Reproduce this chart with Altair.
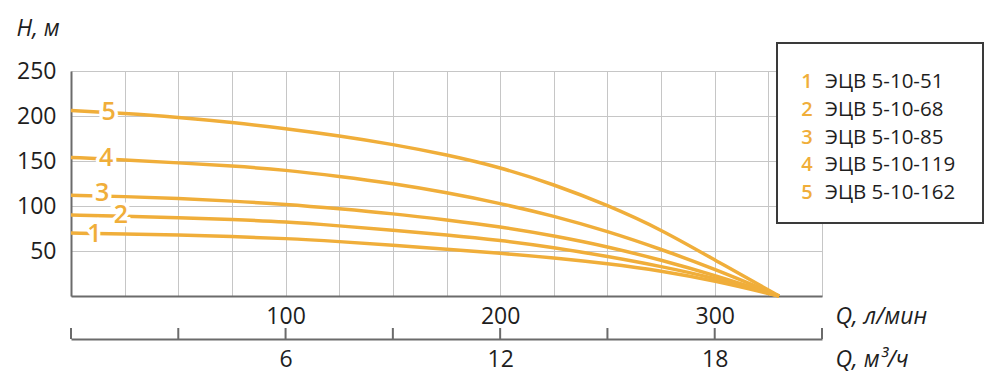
import altair as alt
import pandas as pd

# ---- data ----
q_lpm = [0, 25, 50, 75, 100, 125, 150, 175, 200, 225, 250, 275, 300, 330]
h_1 = [70, 69, 68, 66, 64, 60.5, 56.5, 52, 47.5, 42.5, 36, 28, 17, 0]
h_2 = [90, 88.5, 87, 85, 82.5, 78, 73, 68, 62, 54, 44, 33, 20, 0]
h_3 = [112, 110.5, 108.5, 105.5, 102, 97, 91.5, 84.5, 77, 67, 55, 40, 23, 0]
h_4 = [154, 151, 148, 144.5, 140, 133, 125, 115, 103, 89, 72, 52, 30, 0]
h_5 = [206, 203, 198.5, 193, 186, 178, 168.5, 157, 143, 124, 101, 74, 40, 0]

curve_ids = ["1", "2", "3", "4", "5"]
models = ["ЭЦВ 5-10-51", "ЭЦВ 5-10-68", "ЭЦВ 5-10-85", "ЭЦВ 5-10-119", "ЭЦВ 5-10-162"]
label_q = [10.9, 23.3, 14.5, 16.4, 17.6]
label_h = [69, 89.5, 115, 153, 204]

x_grid = [0, 25, 50, 75, 100, 125, 150, 175, 200, 225, 250, 275, 300, 325, 350]
y_ticks = [0, 50, 100, 150, 200, 250]
m3_ticks = [0, 3, 6, 9, 12, 15, 18, 21]
m3_labels = [6, 12, 18]

ORANGE = "#F0AE3A"
AXIS = "#6b6b6b"
GRID = "#c6c6c6"
TXT = "#1e1e1e"
FONT = "Open Sans"
W, H = 751, 225

rows = []
for cid, hs in zip(curve_ids, [h_1, h_2, h_3, h_4, h_5]):
    for q, h in zip(q_lpm, hs):
        rows.append({"curve": cid, "Q": q, "H": h})
curves = pd.DataFrame(rows)
labels = pd.DataFrame({"curve": curve_ids, "Q": label_q, "H": label_h})
legend_df = pd.DataFrame({"nums": ["\n".join(curve_ids)], "names": ["\n".join(models)]})
m3_df = pd.DataFrame({"m3": m3_ticks})

x_main = alt.X(
    "Q:Q",
    scale=alt.Scale(domain=[0, 350], nice=False, zero=False),
    axis=alt.Axis(
        values=x_grid,
        labelExpr="(datum.value > 0 && datum.value % 100 == 0) ? datum.label : ''",
        labelOverlap=False,
        labelFlush=False,
        tickSize=0,
        labelPadding=9,
        labelFontSize=23,
        labelColor=TXT,
        labelFont=FONT,
        grid=True,
        gridColor=GRID,
        gridWidth=1,
        domainColor=AXIS,
        domainWidth=2,
        title="Q, л/мин",
        titleFont=FONT,
        titleFontSize=23,
        titleFontStyle="italic",
        titleFontWeight="normal",
        titleColor=TXT,
        titleAngle=0,
        titleAlign="left",
        titleBaseline="middle",
        titleX=W + 13,
        titleY=20,
    ),
)
y_main = alt.Y(
    "H:Q",
    scale=alt.Scale(domain=[0, 250], nice=False),
    axis=alt.Axis(
        values=y_ticks,
        labelExpr="datum.value == 0 ? '' : datum.label",
        tickSize=0,
        labelPadding=15,
        labelFontSize=23,
        labelColor=TXT,
        labelFont=FONT,
        grid=True,
        gridColor=GRID,
        gridWidth=1,
        domainColor=AXIS,
        domainWidth=2,
        title="H, м",
        titleFont=FONT,
        titleFontSize=23,
        titleFontStyle="italic",
        titleFontWeight="normal",
        titleColor=TXT,
        titleAngle=0,
        titleAlign="left",
        titleBaseline="middle",
        titleX=-55,
        titleY=-43,
    ),
)

lines = alt.Chart(curves).mark_line(
    color=ORANGE, strokeWidth=3.5, interpolate="basis"
).encode(x=x_main, y=y_main, detail="curve:N")

halo = alt.Chart(labels).mark_text(
    font=FONT, fontSize=25, fontWeight=600, color="white", stroke="white", strokeWidth=7,
    align="center", baseline="middle"
).encode(x=x_main, y=y_main, text="curve:N")

label_txt = alt.Chart(labels).mark_text(
    font=FONT, fontSize=25, fontWeight=600, color=ORANGE, align="center", baseline="middle"
).encode(x=x_main, y=y_main, text="curve:N")

box = alt.Chart(pd.DataFrame({"a": [0]})).mark_rect(
    fill="white", stroke="#3a3a3a", strokeWidth=2
).encode(x=alt.value(706), x2=alt.value(912), y=alt.value(-28), y2=alt.value(152))

leg_num = alt.Chart(legend_df).mark_text(
    font=FONT, fontSize=20, fontWeight=600, color=ORANGE, align="center", baseline="middle",
    lineBreak="\n", lineHeight=27.75
).encode(x=alt.value(736), y=alt.value(11), text="nums:N")
leg_txt = alt.Chart(legend_df).mark_text(
    font=FONT, fontSize=20.5, color=TXT, align="left", baseline="middle",
    lineBreak="\n", lineHeight=27.75
).encode(x=alt.value(754), y=alt.value(11), text="names:N")

main = alt.layer(lines, halo, label_txt, box, leg_num, leg_txt)

m3_axis = alt.Chart(m3_df).mark_rule(color=AXIS, strokeWidth=2).encode(
    x=alt.X(
        "m3:Q",
        scale=alt.Scale(domain=[0, 21], nice=False, zero=False),
        axis=alt.Axis(
            orient="bottom",
            offset=43,
            values=m3_labels,
            tickSize=0,
            labelPadding=9,
            labelFontSize=23,
            labelColor=TXT,
            labelFont=FONT,
            labelFlush=False,
            grid=False,
            domainColor=AXIS,
            domainWidth=2,
            title="Q, м³/ч",
            titleFont=FONT,
            titleFontSize=23,
            titleFontStyle="italic",
            titleFontWeight="normal",
            titleColor=TXT,
            titleAngle=0,
            titleAlign="left",
            titleBaseline="middle",
            titleX=W + 13,
            titleY=20,
        ),
    ),
    y=alt.value(H + 43 - 11),
    y2=alt.value(H + 43),
)

chart = alt.layer(main, m3_axis).resolve_scale(x="independent").properties(
    width=W,
    height=H,
    autosize=alt.AutoSizeParams(type="none"),
    padding={"left": 63, "top": 63, "right": 168, "bottom": 76},
    background="white",
).configure_view(stroke=None)

chart.save("out.html", embed_options={"renderer": "svg", "actions": False})
